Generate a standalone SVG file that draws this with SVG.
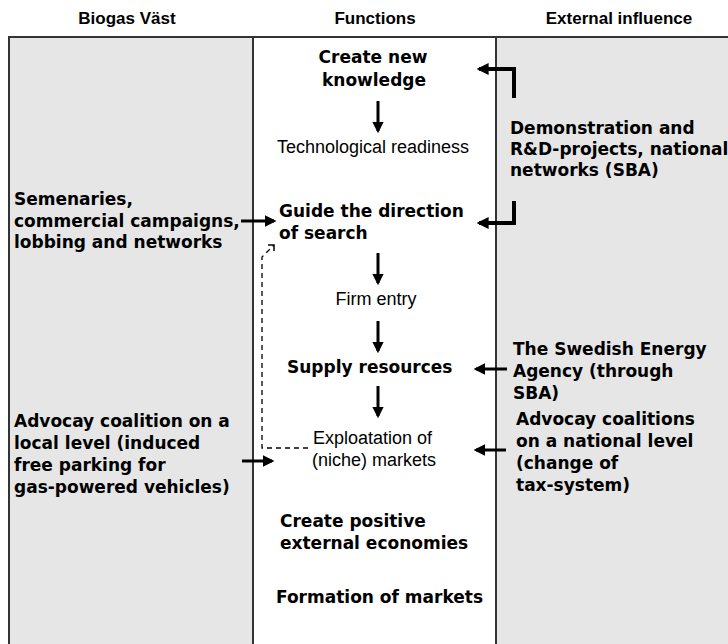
<svg xmlns="http://www.w3.org/2000/svg" width="728" height="644" viewBox="0 0 728 644">
<style>
.hdr{font-family:"Liberation Sans",Arial,sans-serif;font-weight:bold;font-size:17px;fill:#000;text-anchor:middle}
.b{font-family:"DejaVu Sans",Verdana,sans-serif;font-weight:bold;font-size:17px;fill:#000}
.r{font-family:"Liberation Sans",Arial,sans-serif;font-size:18px;fill:#000}
.c{text-anchor:middle}
.arr{stroke:#000;stroke-width:3;fill:none}
.brk{stroke:#000;stroke-width:4;fill:none}
.dash{stroke:#000;stroke-width:1.3;fill:none;stroke-dasharray:5,4}
</style>
<defs>
<marker id="ah" viewBox="0 0 10 10" refX="8" refY="5" markerWidth="3.8" markerHeight="3.8" orient="auto" markerUnits="strokeWidth">
<path d="M0,0 L10,5 L0,10 z" fill="#000"/>
</marker>
<marker id="ah2" viewBox="0 0 10 10" refX="8" refY="5" markerWidth="3" markerHeight="3" orient="auto" markerUnits="strokeWidth">
<path d="M0,0 L10,5 L0,10 z" fill="#000"/>
</marker>
</defs>
<rect width="728" height="644" fill="#fff"/>
<g id="headers">
<text class="hdr" x="127" y="24">Biogas Väst</text>
<text class="hdr" x="375" y="24">Functions</text>
<text class="hdr" x="619" y="24">External influence</text>
</g>
<g id="frame">
<rect x="9" y="37" width="244" height="620" fill="#e6e6e6"/>
<rect x="496" y="37" width="240" height="620" fill="#e6e6e6"/>
<path d="M9 645 V37 H728 M253 37 V645 M496 37 V645" stroke="#333" stroke-width="2" fill="none"/>
</g>
<g id="left-1">
<text class="b" x="14" y="205">Semenaries,</text>
<text class="b" x="14" y="227">commercial campaigns,</text>
<text class="b" x="14" y="248">lobbing and networks</text>
</g>
<g id="left-2">
<text class="b" x="14" y="427">Advocay coalition on a</text>
<text class="b" x="14" y="449">local level (induced</text>
<text class="b" x="14" y="471">free parking for</text>
<text class="b" x="14" y="493">gas-powered vehicles)</text>
</g>
<g id="create-knowledge">
<text class="b c" x="373" y="63">Create new</text>
<text class="b c" x="374" y="86">knowledge</text>
</g>
<g id="tech-readiness"><text class="r c" x="373" y="153">Technological readiness</text></g>
<g id="guide-search">
<text class="b" x="279" y="217">Guide the direction</text>
<text class="b" x="279" y="239">of search</text>
</g>
<g id="firm-entry"><text class="r c" x="376" y="305">Firm entry</text></g>
<g id="supply"><text class="b" x="287" y="373">Supply resources</text></g>
<g id="exploatation">
<text class="r" x="313" y="444">Exploatation of</text>
<text class="r" x="312" y="466">(niche) markets</text>
</g>
<g id="positive-economies">
<text class="b" x="280" y="527">Create positive</text>
<text class="b" x="280" y="549">external economies</text>
</g>
<g id="formation"><text class="b" x="276" y="603">Formation of markets</text></g>
<g id="right-1">
<text class="b" x="510" y="134">Demonstration and</text>
<text class="b" x="510" y="155">R&amp;D-projects, national</text>
<text class="b" x="510" y="176">networks (SBA)</text>
</g>
<g id="right-2">
<text class="b" x="513" y="355">The Swedish Energy</text>
<text class="b" x="513" y="377">Agency (through</text>
<text class="b" x="513" y="399">SBA)</text>
</g>
<g id="right-3">
<text class="b" x="516" y="425">Advocay coalitions</text>
<text class="b" x="516" y="447">on a national level</text>
<text class="b" x="516" y="469">(change of</text>
<text class="b" x="516" y="491">tax-system)</text>
</g>
<g id="connectors">
<path class="arr" d="M378 101 V131" marker-end="url(#ah)"/>
<path class="arr" d="M378 253 V283" marker-end="url(#ah)"/>
<path class="arr" d="M378 321 V351" marker-end="url(#ah)"/>
<path class="arr" d="M378 386 V416" marker-end="url(#ah)"/>
<path class="brk" d="M514 98 V69 H479" marker-end="url(#ah2)"/>
<path class="brk" d="M514 201 V223 H479" marker-end="url(#ah2)"/>
<path class="arr" d="M241 221 H274" marker-end="url(#ah)"/>
<path class="arr" d="M242 461 H272" marker-end="url(#ah)"/>
<path class="arr" d="M507 369 H476" marker-end="url(#ah)"/>
<path class="arr" d="M506 450 H476" marker-end="url(#ah)"/>
<path class="dash" d="M308 448 H262 V257 L274 245"/>
<path d="M268 245 H274 V251" fill="none" stroke="#000" stroke-width="1.5"/>
</g>
</svg>
